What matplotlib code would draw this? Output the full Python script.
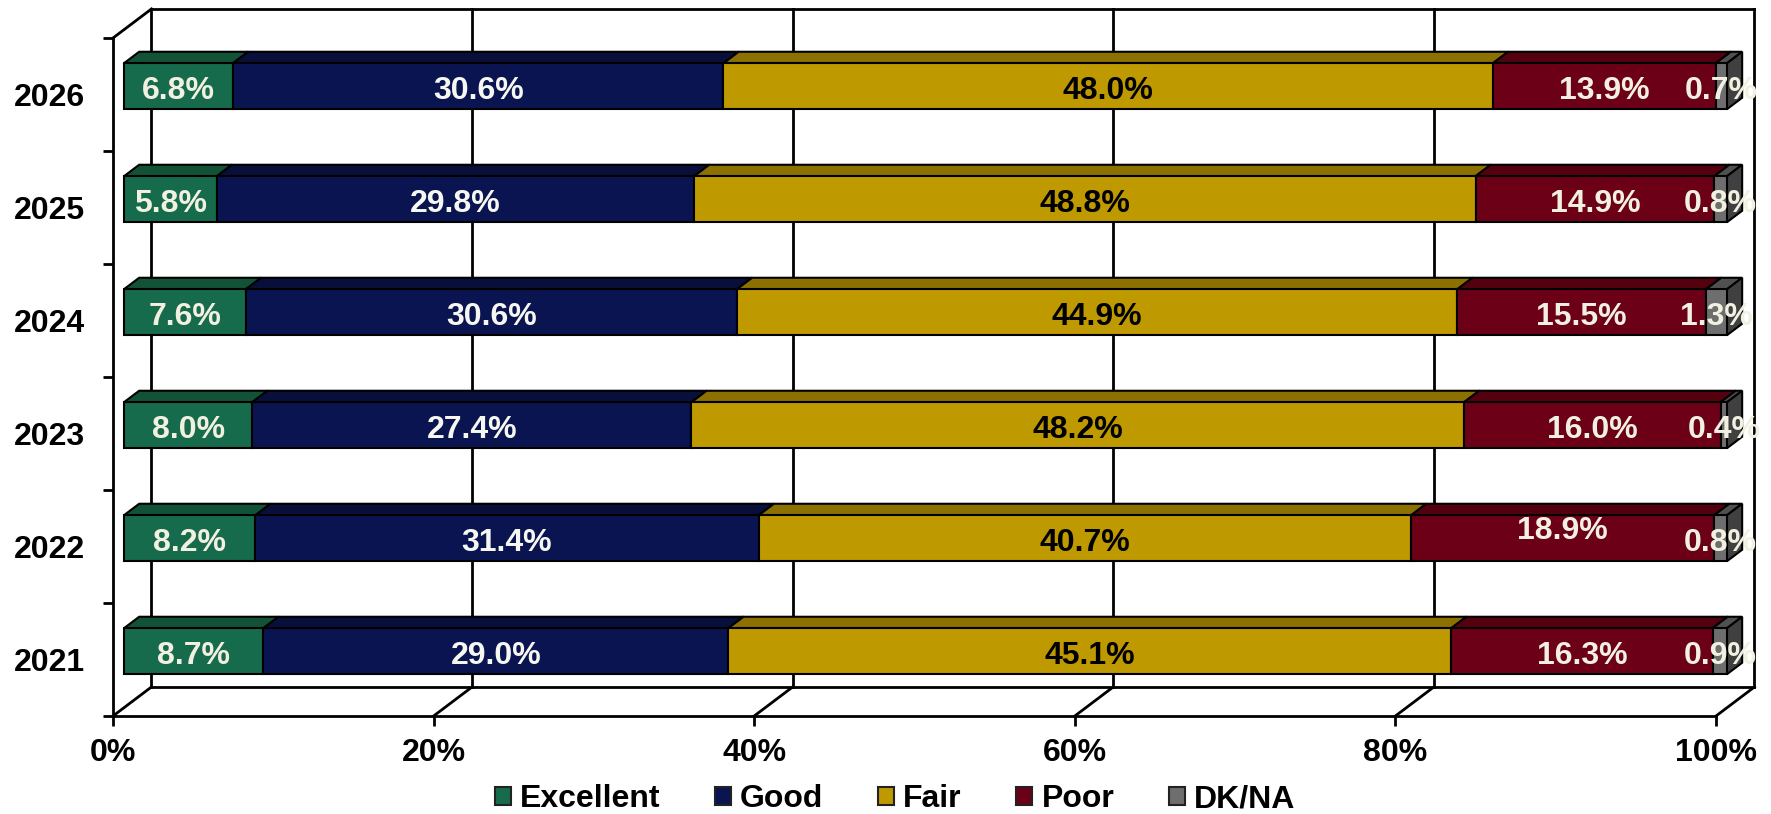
import matplotlib
matplotlib.use('Agg')
import matplotlib.pyplot as plt
import numpy as np
from matplotlib.patches import Polygon, Patch

plt.rcParams['font.family'] = ['Liberation Sans', 'DejaVu Sans']
plt.rcParams['font.weight'] = 'bold'

# data, bottom row first
years = ['2021', '2022', '2023', '2024', '2025', '2026']
series_names = ['Excellent', 'Good', 'Fair', 'Poor', 'DK/NA']
excellent = [8.7, 8.2, 8.0, 7.6, 5.8, 6.8]
good = [29.0, 31.4, 27.4, 30.6, 29.8, 30.6]
fair = [45.1, 40.7, 48.2, 44.9, 48.8, 48.0]
poor = [16.3, 18.9, 16.0, 15.5, 14.9, 13.9]
dk_na = [0.9, 0.8, 0.4, 1.3, 0.8, 0.7]
x_ticks = [0, 20, 40, 60, 80, 100]

# colours
front_colors = ['#166B4D', '#0A1450', '#BF9900', '#6B0016', '#6E6E6E']
top_colors = ['#125237', '#080F3A', '#8C7000', '#55000F', '#505050']
side_color = '#404040'
label_colors = ['#F2F0E0', '#F7F7F2', '#000000', '#F2F0E0', '#F2F0E0']

FS = 23
LW = 2.0

# 3d look: how far the back wall sits from the front, in data units
DEPTH_X = 2.4
DEPTH_Y = 0.257
BAR_FRONT = 0.285
BAR_BACK = 0.68
BAR_H = 0.407


def project(v, row, d):
    return v + DEPTH_X * d, row + DEPTH_Y * d


fig = plt.figure(figsize=(17.71, 8.14), dpi=100)
ax = fig.add_axes([113 / 1771, 1 - 716 / 814, 1603 / 1771, 678 / 814])
ax.set_xlim(0, 100)
ax.set_ylim(-0.5, len(years) - 0.5)

y_low, y_high = ax.get_ylim()

# walls and floor
wall = dict(color='black', lw=LW, clip_on=False, zorder=1, solid_capstyle='projecting')
for t in x_ticks:
    x0, y0 = project(t, y_low, 0)
    x1, y1 = project(t, y_low, 1)
    x2, y2 = project(t, y_high, 1)
    ax.plot([x0, x1], [y0, y1], **wall)
    ax.plot([x1, x2], [y1, y2], **wall)
xa, ya = project(0, y_low, 1)
xb, yb = project(100, y_low, 1)
ax.plot([xa, xb], [ya, yb], **wall)
xa, ya = project(0, y_high, 1)
xb, yb = project(100, y_high, 1)
ax.plot([xa, xb], [ya, yb], **wall)
xa, ya = project(0, y_high, 0)
xb, yb = project(0, y_high, 1)
ax.plot([xa, xb], [ya, yb], **wall)

# the stacked bars
values = np.array([excellent, good, fair, poor, dk_na], dtype=float)
shares = values / values.sum(axis=0) * 100
lefts = np.vstack([np.zeros(len(years)), np.cumsum(shares, axis=0)[:-1]])
rows = np.arange(len(years))
edge = dict(edgecolor='black', linewidth=1.5, clip_on=False)

for s in range(len(series_names)):
    for r in rows:
        lo = lefts[s, r]
        hi = lo + shares[s, r]
        top = r + BAR_H / 2
        ax.add_patch(Polygon([project(lo, top, BAR_FRONT), project(hi, top, BAR_FRONT),
                              project(hi, top, BAR_BACK), project(lo, top, BAR_BACK)],
                             facecolor=top_colors[s], zorder=3, **edge))
    ax.barh(rows + DEPTH_Y * BAR_FRONT, shares[s], BAR_H,
            left=lefts[s] + DEPTH_X * BAR_FRONT,
            color=front_colors[s], zorder=4, **edge)

for r in rows:
    top = r + BAR_H / 2
    bottom = r - BAR_H / 2
    ax.add_patch(Polygon([project(100, bottom, BAR_FRONT), project(100, top, BAR_FRONT),
                          project(100, top, BAR_BACK), project(100, bottom, BAR_BACK)],
                         facecolor=side_color, zorder=3, **edge))

# labels, the 18.9% one sits higher in the original
nudge = {(3, 1): 0.105}
for s in range(len(series_names)):
    for r in rows:
        cx = lefts[s, r] + shares[s, r] / 2 + DEPTH_X * BAR_FRONT
        cy = r + DEPTH_Y * BAR_FRONT + nudge.get((s, r), 0) - 0.008
        ax.text(cx, cy, f'{values[s, r]:.1f}%', ha='center', va='center_baseline',
                fontsize=FS, fontweight='bold', color=label_colors[s], zorder=6, clip_on=False)

# axes
for side in ['top', 'right']:
    ax.spines[side].set_visible(False)
for side in ['left', 'bottom']:
    ax.spines[side].set_linewidth(LW)
    ax.spines[side].set_zorder(1)

ax.set_xticks(x_ticks)
ax.set_xticklabels([f'{t}%' for t in x_ticks], fontsize=FS, fontweight='bold')
ax.tick_params(axis='x', length=7, width=LW, pad=9)
ax.set_yticks(np.arange(len(years) + 1) - 0.5)
ax.set_yticklabels([])
ax.tick_params(axis='y', which='major', length=7, width=LW)
ax.set_yticks(rows, minor=True)
ax.set_yticklabels(years, minor=True, fontsize=FS, fontweight='bold')
ax.tick_params(axis='y', which='minor', length=0, pad=20)

handles = [Patch(facecolor=c, edgecolor='#222222', linewidth=1.5) for c in front_colors]
fig.legend(handles, series_names, loc='center', ncol=5, frameon=False,
           bbox_to_anchor=(895 / 1771, 1 - 799 / 814), prop=dict(size=FS, weight='bold'),
           handlelength=0.5, handleheight=0.5, handletextpad=0.28, columnspacing=1.72,
           borderpad=0, borderaxespad=0)

fig.savefig('out.png', dpi=100)
